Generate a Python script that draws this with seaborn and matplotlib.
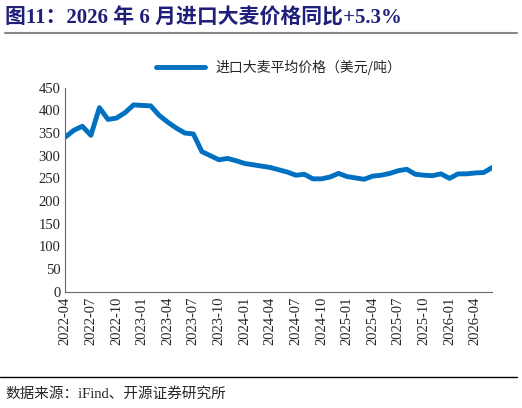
import matplotlib
matplotlib.use("Agg")
import matplotlib.pyplot as plt
import pandas as pd
import seaborn as sns

months = pd.date_range("2022-04-01", "2026-06-01", freq="MS")
price = [341, 356, 365, 345, 406, 380, 383, 395, 412, 411, 410, 389, 374, 361, 350, 348,
         309, 300, 291, 294, 289, 283, 280, 277, 274, 269, 264, 257, 259, 249, 249, 253,
         261, 254, 251, 248, 255, 257, 261, 267, 270, 259, 257, 256, 260, 250, 260, 260,
         262, 263, 274]
label = "进口大麦平均价格（美元/吨）"
title = "图11：2026 年 6 月进口大麦价格同比+5.3%"
source = "数据来源：iFind、开源证券研究所"

sns.set_style("white")
plt.rcParams["font.family"] = ["Liberation Serif", "Noto Sans CJK SC"]

df = pd.DataFrame({"idx": range(len(months)), "price": price})

fig = plt.figure(figsize=(5.22, 4.08), dpi=100)
ax = fig.add_axes([0.125, 0.285, 0.818, 0.5])
sns.lineplot(data=df, x="idx", y="price", ax=ax, color="#0070C0", linewidth=3.5, label=label)

ax.set_xlim(0, len(months) - 1)
ax.set_ylim(0, 450)
ax.set_yticks(range(0, 451, 50))
tick_idx = list(range(0, len(months), 3))
ax.set_xticks(tick_idx)
ax.set_xticklabels([months[i].strftime("%Y-%m") for i in tick_idx], rotation=90, fontsize=10.5)
ax.tick_params(axis="y", labelsize=10.5, direction="in", length=4, color="#666")
ax.tick_params(axis="x", direction="in", length=4, color="#666")
ax.set_xlabel("")
ax.set_ylabel("")
for s in ["top", "right"]:
    ax.spines[s].set_visible(False)
for s in ["left", "bottom"]:
    ax.spines[s].set_color("#666")
ax.legend(loc="lower center", bbox_to_anchor=(0.5, 1.0), frameon=False,
          handlelength=3.5, prop={"family": ["Noto Sans CJK SC"], "size": 10})

fig.text(0.01, 0.955, title, fontsize=15, fontweight="bold", color="#1F1F7A", va="center")
fig.add_artist(plt.Line2D([0.01, 0.99], [0.918, 0.918], color="#888", linewidth=1.5))
fig.add_artist(plt.Line2D([0.0, 0.99], [0.075, 0.075], color="black", linewidth=1))
fig.text(0.01, 0.035, source, fontsize=10.5, va="center")

fig.savefig("out.png", dpi=100)
